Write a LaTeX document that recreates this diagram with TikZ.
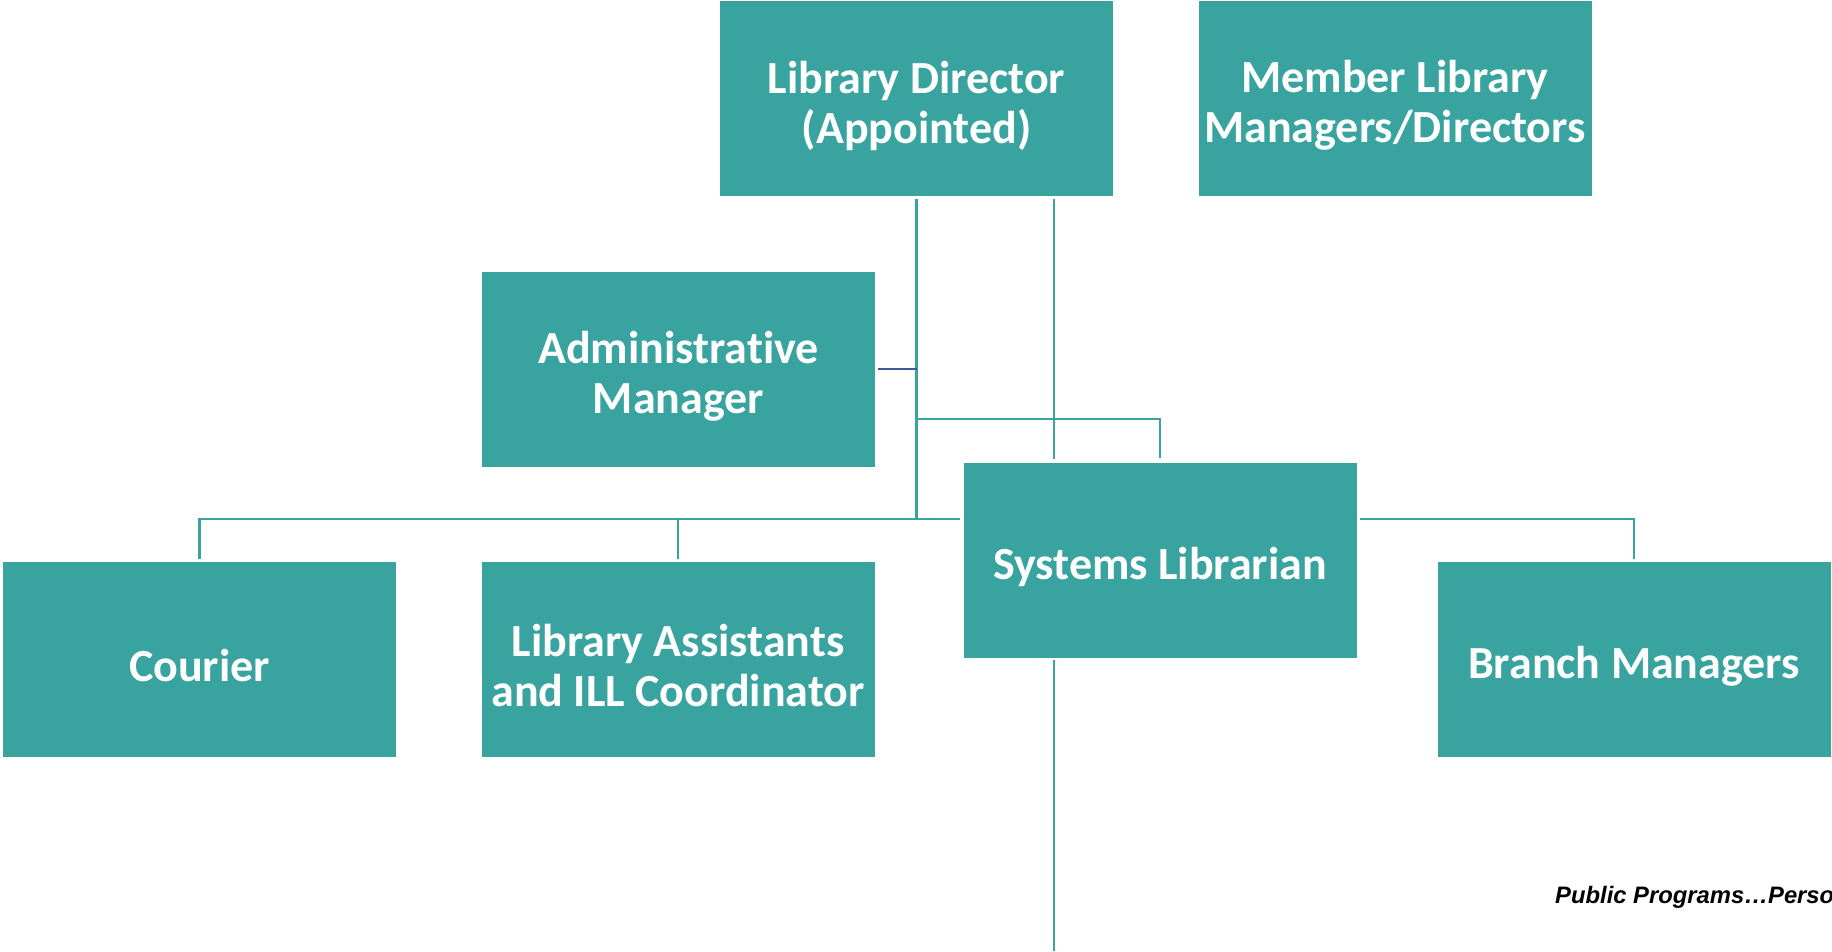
\documentclass[tikz,border=0pt]{standalone}
\usepackage{fontspec}
\newfontfamily\boxfont{Carlito}[Ligatures=NoCommon]
\newfontfamily\notefont{Liberation Sans}
\definecolor{teal1}{RGB}{56,163,159}
\definecolor{blue1}{RGB}{59,90,160}
\begin{document}
\begin{tikzpicture}[x=1pt,y=-1pt,
  orgbox/.style={fill=teal1,draw=none,minimum width=393pt,minimum height=195pt,inner sep=0pt},
  boxtext/.style={inner sep=0pt,text=white,align=center,font=\boxfont\bfseries\fontsize{46}{50}\selectfont},
  conn/.style={draw=teal1,line width=2.7pt},
  blueconn/.style={draw=blue1,line width=2.6pt}]
\useasboundingbox (0,0) rectangle (1832,951);
\begin{scope}
\clip (0,0) rectangle (1832,951);
\fill[white] (0,0) rectangle (1832,951);

\node[orgbox] (ld) at (916.5,98.5) {};
\node[orgbox] (mlm) at (1395,98.5) {};
\node[orgbox] (adm) at (678.5,369) {};
\node[orgbox] (sl) at (1160,560) {};
\node[orgbox] (cou) at (199.5,659.5) {};
\node[orgbox] (la) at (678,659.5) {};
\node[orgbox] (bm) at (1634,659.5) {};

\node[boxtext] (ldt) at ([yshift=-7pt]ld.center) {Library Director\\(Appointed)};
\node[boxtext] (mlmt) at ([yshift=-7pt]mlm.center) {Member Library\\Managers/Directors};
\node[boxtext] (admt) at ([yshift=-7pt]adm.center) {Administrative\\Manager};
\node[boxtext] (slt) at ([yshift=-7pt]sl.center) {Systems Librarian};
\node[boxtext] (cout) at ([yshift=-6pt]cou.center) {Courier};
\node[boxtext] (lat) at ([yshift=-6pt]la.center) {Library Assistants\\and ILL Coordinator};
\node[boxtext] (bmt) at ([yshift=-7pt]bm.center) {Branch Managers};

\coordinate (j) at (916.5,519);
\coordinate (loop) at (916.5,419);
\coordinate (v2top) at (1054,199);
\coordinate (v2bot) at (1054,459);
\coordinate (v3top) at (1054,660);
\coordinate (v3bot) at (1054,951);

% trunk from Library Director
\draw[conn] ([yshift=-3pt]ld.south) -- (j);
% branch bar to Courier and Library Assistants
\draw[conn] ([xshift=-3pt]sl.west |- j) -- (cou.north |- j) -- ([yshift=3pt]cou.north);
\draw[conn] (la.north |- j) -- ([yshift=3pt]la.north);
% loop to Systems Librarian
\draw[conn] (loop) -| ([yshift=4pt]sl.north);
% second vertical line
\draw[conn] (v2top) -- (v2bot);
% line below Systems Librarian
\draw[conn] (v3top) -- (v3bot);
% Systems Librarian to Branch Managers
\draw[conn] ([xshift=3pt]sl.east |- j) -| ([yshift=3pt]bm.north);
% Administrative Manager
\draw[blueconn] ([xshift=3pt]adm.east) -- (ld.south |- adm.east);

\node[anchor=base west,inner sep=0pt,font=\notefont\bfseries\itshape\fontsize{23.8}{28}\selectfont] (note) at (1555,903) {Public Programs…Perso};
\end{scope}
\end{tikzpicture}
\end{document}
